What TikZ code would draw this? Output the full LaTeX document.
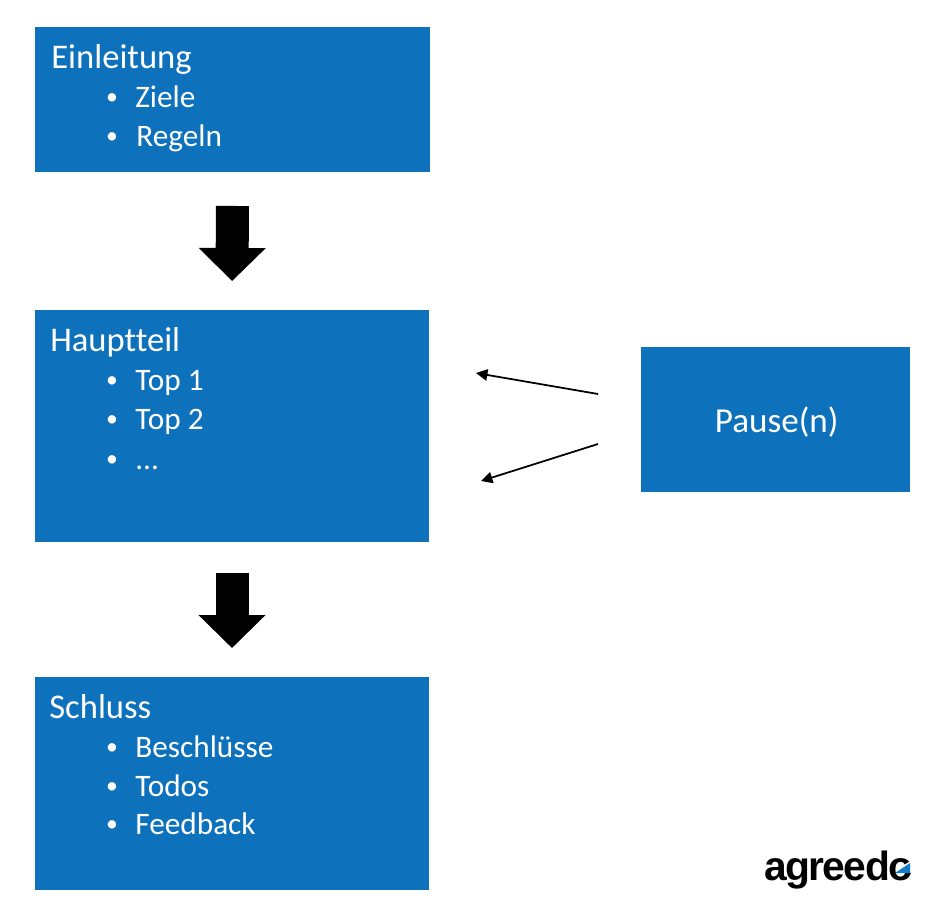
\documentclass[tikz,border=0pt]{standalone}
\usepackage{fontspec}
\setmainfont[Ligatures=NoCommon]{Carlito}
\newfontfamily\logofont{Liberation Sans}
\usetikzlibrary{arrows.meta}
\definecolor{boxblue}{RGB}{14, 113, 188}
\definecolor{logoblue}{RGB}{20, 125, 200}

\begin{document}
\begin{tikzpicture}[
                x=0.02cm, y=-0.02cm,
                box/.style={fill=boxblue, inner sep=0pt, outer sep=0pt},
                title/.style={font=\fontsize{19.7}{24}\selectfont, text=white, anchor=base west, inner sep=0pt},
                entry/.style={font=\fontsize{17.8}{21}\selectfont, text=white, anchor=base west, inner sep=0pt},
                dot/.style={font=\fontsize{13.5}{16}\selectfont, text=white, anchor=base, inner sep=0pt, yshift=0.06cm},
                bigarrow/.style={line width=0.66cm, -{Triangle[length=0.66cm, width=1.3cm]}},
                thinarrow/.style={line width=1pt, -{Triangle[length=6.5pt, width=6.5pt]}}
            ]
                \useasboundingbox (0,0) rectangle (942,914);

                % Einleitung
                \node[box, minimum width=7.9cm, minimum height=2.9cm] (einleitung) at (232.5, 99.5) {};
                \node[title] (einleitungtitle) at (51, 68) {Einleitung};
                \node[dot] (dota) at (112, 107) {•};
                \node[entry] (ziele) at (135, 107) {Ziele};
                \node[dot] (dotb) at (112, 146) {•};
                \node[entry] (regeln) at (136, 146) {Regeln};

                % Hauptteil
                \node[box, minimum width=7.88cm, minimum height=4.64cm] (hauptteil) at (232, 426) {};
                \node[title] (hauptteiltitle) at (50, 351) {Hauptteil};
                \node[dot] (dotc) at (112, 390) {•};
                \node[entry] (topa) at (135, 390) {Top 1};
                \node[dot] (dotd) at (112, 429) {•};
                \node[entry] (topb) at (135, 429) {Top 2};
                \node[dot] (dote) at (112, 469) {•};
                \node[entry] (more) at (135, 469) {...};

                % Schluss
                \node[box, minimum width=7.88cm, minimum height=4.26cm] (schluss) at (232, 783.5) {};
                \node[title] (schlusstitle) at (49, 718) {Schluss};
                \node[dot] (dotf) at (112, 757) {•};
                \node[entry] (beschluesse) at (135, 757) {Beschlüsse};
                \node[dot] (dotg) at (112, 796) {•};
                \node[entry] (todos) at (135, 796) {Todos};
                \node[dot] (doth) at (112, 834) {•};
                \node[entry] (feedback) at (135, 834) {Feedback};

                % Pause(n)
                \node[box, minimum width=5.38cm, minimum height=2.9cm] (pause) at (775.5, 419.5) {};
                \node[title, font=\fontsize{20}{24}\selectfont] (pausetitle) at (714.5, 432) {Pause(n)};

                \draw[bigarrow, shorten <=0.68cm, shorten >=0.58cm] (einleitung.south) -- (hauptteil.north);
                \draw[bigarrow, shorten <=0.62cm, shorten >=0.58cm] (hauptteil.south) -- (schluss.north);

                \coordinate (pauseup) at (598, 394);
                \coordinate (pausedown) at (598, 444);
                \coordinate (backup) at (476, 373);
                \coordinate (backdown) at (481, 481);
                \draw[thinarrow] (pauseup) -- (backup);
                \draw[thinarrow] (pausedown) -- (backdown);

                % logo
                \node[font=\logofont\bfseries\fontsize{23.2}{26}\selectfont\addfontfeature{LetterSpace=-4}, anchor=base west, inner sep=0pt] (logo) at (764, 880) {agreedo};
                \fill[white] (896, 870) -- (912, 860) -- (912, 873) -- cycle;
                \fill[logoblue] (895, 873) -- (910, 863) -- (910, 873) -- cycle;
            \end{tikzpicture}
\end{document}
